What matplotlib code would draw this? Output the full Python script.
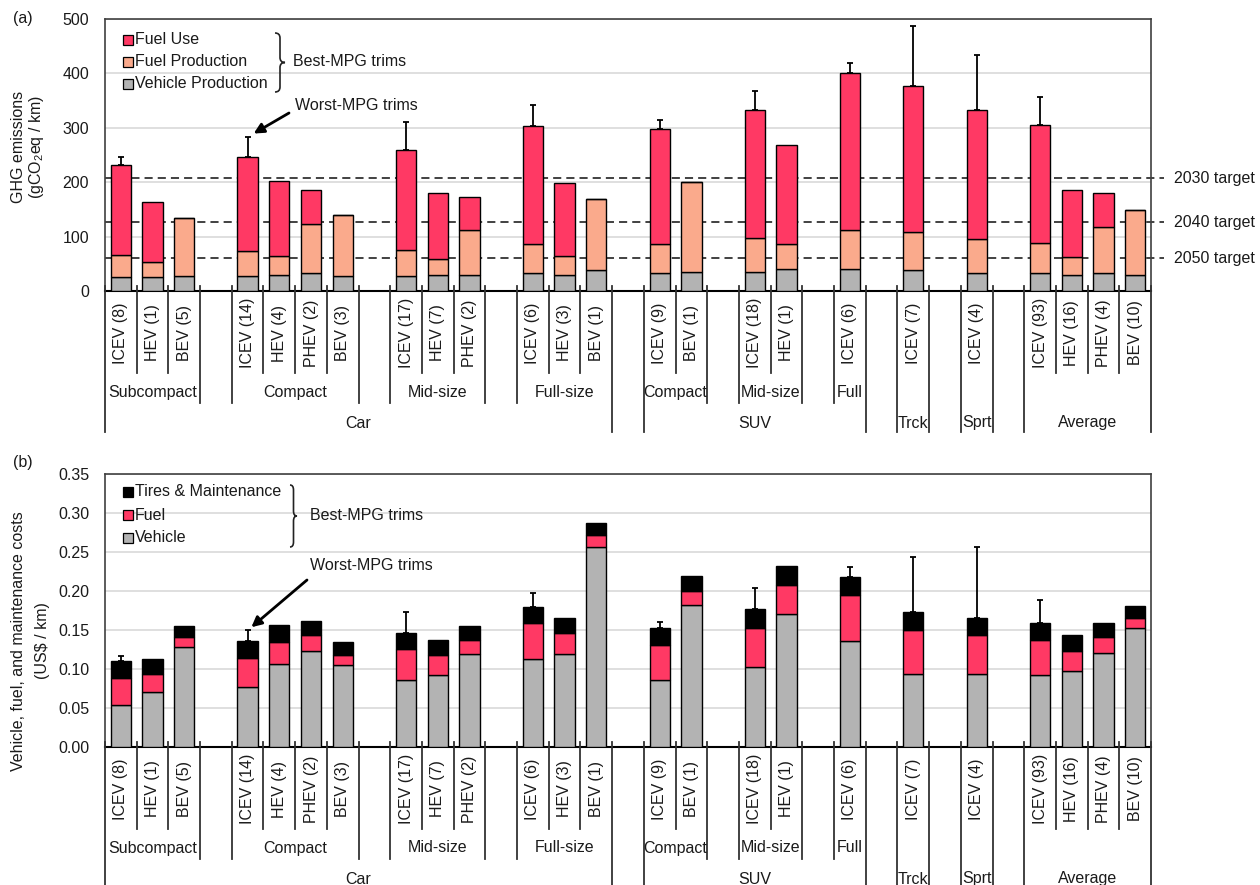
import matplotlib
matplotlib.use("Agg")
import matplotlib.pyplot as plt
import matplotlib.transforms as mtransforms
from matplotlib.patches import Rectangle, PathPatch
from matplotlib.path import Path
from matplotlib.lines import Line2D
from matplotlib.ticker import FormatStrFormatter

plt.rcParams["font.family"] = ["Liberation Sans", "DejaVu Sans"]
plt.rcParams["mathtext.fontset"] = "custom"
plt.rcParams["mathtext.rm"] = "Liberation Sans"
plt.rcParams["mathtext.it"] = "Liberation Sans:italic"
FS = 11.5
TXT = "#1a1a1a"

# ---------------- categories (vehicle class / size / powertrain) ----------------
groups = [
    ("Car", [("Subcompact", ["ICEV (8)", "HEV (1)", "BEV (5)"]),
             ("Compact", ["ICEV (14)", "HEV (4)", "PHEV (2)", "BEV (3)"]),
             ("Mid-size", ["ICEV (17)", "HEV (7)", "PHEV (2)"]),
             ("Full-size", ["ICEV (6)", "HEV (3)", "BEV (1)"])]),
    ("SUV", [("Compact", ["ICEV (9)", "BEV (1)"]),
             ("Mid-size", ["ICEV (18)", "HEV (1)"]),
             ("Full", ["ICEV (6)"])]),
    ("Trck", [("", ["ICEV (7)"])]),
    ("Sprt", [("", ["ICEV (4)"])]),
    ("Average", [("", ["ICEV (93)", "HEV (16)", "PHEV (4)", "BEV (10)"])]),
]

# ---------------- (a) GHG emissions, gCO2eq / km ----------------
ghg_vehicle_prod = [26, 26, 28, 28, 30, 33, 28, 28, 30, 30, 33, 30, 38,
                    33, 35, 35, 41, 41, 38, 33, 33, 30, 33, 30]
ghg_fuel_prod = [41, 28, 107, 45, 35, 91, 112, 48, 29, 83, 54, 35, 131,
                 54, 166, 62, 46, 72, 70, 62, 56, 32, 85, 118]
ghg_fuel_use = [164, 110, 0, 174, 137, 61, 0, 184, 121, 59, 216, 134, 0,
                211, 0, 236, 181, 287, 268, 238, 217, 123, 63, 0]
ghg_worst_mpg = [247, None, None, 283, None, None, None, 310, None, None, 342, None, None,
                 314, None, 367, None, 420, 488, 433, 356, None, None, None]
ghg_targets = [207, 126, 60]
ghg_target_labels = ["2030 target", "2040 target", "2050 target"]

# ---------------- (b) costs, US$ / km ----------------
cost_vehicle = [0.054, 0.070, 0.128, 0.077, 0.107, 0.1225, 0.105, 0.0865, 0.0925, 0.119,
                0.113, 0.119, 0.256, 0.0865, 0.1825, 0.103, 0.170, 0.136, 0.094, 0.094,
                0.092, 0.098, 0.120, 0.152]
cost_fuel = [0.034, 0.023, 0.0125, 0.037, 0.028, 0.0215, 0.013, 0.039, 0.0255, 0.018,
             0.046, 0.027, 0.016, 0.0445, 0.018, 0.050, 0.038, 0.0585, 0.0555, 0.050,
             0.045, 0.0255, 0.0205, 0.013]
cost_tires_maint = [0.022, 0.020, 0.0145, 0.022, 0.022, 0.018, 0.016, 0.0202, 0.0195, 0.018,
                    0.020, 0.020, 0.015, 0.0215, 0.0185, 0.024, 0.024, 0.024, 0.0235, 0.022,
                    0.0215, 0.020, 0.018, 0.016]
cost_worst_mpg = [0.1165, None, None, 0.1495, None, None, None, 0.1737, None, None, 0.198,
                  None, None, 0.160, None, 0.204, None, 0.231, 0.244, 0.257, 0.1885,
                  None, None, None]

C_FUEL_USE = "#FF3964"
C_FUEL_PROD = "#FAAA8C"
C_GRAY = "#B3B3B3"
C_BLACK = "#000000"

# ---------------- slot layout: blank slot after every size group ----------------
positions, cat_labels, lvl2, lvl3 = [], [], [], []
edge_level = {}
slot = 1
for gi, (g3, subs) in enumerate(groups):
    s3 = slot
    for si, (g2, cats) in enumerate(subs):
        s2 = slot
        for c in cats:
            positions.append(slot)
            cat_labels.append(c)
            slot += 1
        lvl2.append((g2, s2, slot - 1))
        for e in (s2 - 0.5, slot - 0.5):
            edge_level[e] = max(edge_level.get(e, 1), 2)
        if si < len(subs) - 1:
            slot += 1
    lvl3.append((g3, s3, slot - 1))
    for e in (s3 - 0.5, slot - 0.5):
        edge_level[e] = 3
    if gi < len(groups) - 1:
        slot += 1
n_slots = slot - 1
for k in range(n_slots + 1):
    edge_level.setdefault(k + 0.5, 1)

W, H = 1260, 885
fig = plt.figure(figsize=(W / 100, H / 100), dpi=100)


def fx(x):
    return x / W


def fy(y):
    return 1 - y / H


def make_axes(top, bottom, left=105, right=1151):
    return fig.add_axes([fx(left), fy(bottom), fx(right - left), (bottom - top) / H])


def style_axes(ax, ymax, step, fmt):
    ax.set_xlim(0.5, n_slots + 0.5)
    ax.set_ylim(0, ymax)
    ax.set_yticks([i * step for i in range(int(round(ymax / step)) + 1)])
    ax.yaxis.set_major_formatter(FormatStrFormatter(fmt))
    ax.set_xticks([])
    ax.tick_params(axis="y", length=0, pad=11.5, labelsize=FS, labelcolor=TXT)
    ax.yaxis.grid(True, color="#d9d9d9", lw=1.2)
    ax.set_axisbelow(True)
    for side in ("left", "right", "top"):
        ax.spines[side].set_color("#404040")
        ax.spines[side].set_linewidth(1.2)
    ax.spines["bottom"].set_color("black")
    ax.spines["bottom"].set_linewidth(1.5)


def category_axis(ax, base):
    trans = mtransforms.blended_transform_factory(ax.transData, fig.transFigure)
    depth = {1: 82, 2: 112, 3: 141}
    for e, lv in edge_level.items():
        fig.add_artist(Line2D([e, e], [fy(base - 5), fy(base + depth[lv])],
                              transform=trans, color="#333333", lw=1.3))
    for p, lab in zip(positions, cat_labels):
        fig.text(p, fy(base + 42), lab, transform=trans, rotation=90,
                 ha="center", va="center", fontsize=FS, color=TXT)
    for name, s, e in lvl2:
        if name:
            fig.text((s + e) / 2, fy(base + 101), name, transform=trans,
                     ha="center", va="center", fontsize=FS, color=TXT)
    for name, s, e in lvl3:
        fig.text((s + e) / 2, fy(base + 132), name, transform=trans,
                 ha="center", va="center", fontsize=FS, color=TXT)


def stacked(ax, layers, colors, worst):
    bottom = [0.0] * len(positions)
    for vals, col in zip(layers, colors):
        ax.bar(positions, vals, bottom=bottom, width=0.64, color=col,
               edgecolor="black", linewidth=1.0, zorder=3)
        bottom = [b + v for b, v in zip(bottom, vals)]
    for p, tot, w in zip(positions, bottom, worst):
        if w is not None:
            ax.errorbar([p], [tot], yerr=[[0], [w - tot]], fmt="none", ecolor="black",
                        elinewidth=1.3, capsize=2.5, capthick=1.3, zorder=2)
    return bottom


def brace(x_left, x_tip, y_top, y_bot, r=5):
    xm = (x_left + x_tip) / 2
    ym = (y_top + y_bot) / 2
    pts = [(x_left, y_top), (xm, y_top), (xm, y_top + r),
           (xm, ym - r), (xm, ym), (x_tip, ym),
           (xm, ym), (xm, ym + r),
           (xm, y_bot - r), (xm, y_bot), (x_left, y_bot)]
    codes = [Path.MOVETO, Path.CURVE3, Path.CURVE3,
             Path.LINETO, Path.CURVE3, Path.CURVE3,
             Path.CURVE3, Path.CURVE3,
             Path.LINETO, Path.CURVE3, Path.CURVE3]
    verts = [(fx(x), fy(y)) for x, y in pts]
    fig.add_artist(PathPatch(Path(verts, codes), fill=False, lw=1.2,
                             edgecolor="#222222", transform=fig.transFigure))


def legend(entries, x_sq, rows):
    for (label, col), y in zip(entries, rows):
        fig.add_artist(Rectangle((fx(x_sq), fy(y + 5)), 10 / W, 10 / H, facecolor=col,
                                 edgecolor="black", lw=0.9, transform=fig.transFigure))
        fig.text(fx(x_sq + 12), fy(y), label, ha="left", va="center",
                 fontsize=FS, color=TXT)


# ================= panel (a) =================
base_a = 291
ax1 = make_axes(19, base_a)
style_axes(ax1, 500, 100, "%d")
stacked(ax1, [ghg_vehicle_prod, ghg_fuel_prod, ghg_fuel_use],
        [C_GRAY, C_FUEL_PROD, C_FUEL_USE], ghg_worst_mpg)
tline = mtransforms.blended_transform_factory(ax1.transAxes, ax1.transData)
tlab = mtransforms.blended_transform_factory(fig.transFigure, ax1.transData)
for v, lab in zip(ghg_targets, ghg_target_labels):
    ax1.plot([0, 1.012], [v, v], transform=tline, color="#333333", lw=1.3,
             ls=(0, (4.5, 2.8)), clip_on=False, zorder=2)
    fig.text(fx(1174), v, lab, transform=tlab, ha="left", va="center",
             fontsize=FS, color=TXT)
category_axis(ax1, base_a)

legend([("Fuel Use", C_FUEL_USE), ("Fuel Production", C_FUEL_PROD),
        ("Vehicle Production", C_GRAY)], 123, [40, 62, 84])
brace(275, 285, 33, 92)
fig.text(fx(293), fy(62), "Best-MPG trims", ha="left", va="center", fontsize=FS, color=TXT)
fig.text(fx(295), fy(106), "Worst-MPG trims", ha="left", va="center", fontsize=FS, color=TXT)
ax1.annotate("", xy=(positions[3], ghg_worst_mpg[3]), xycoords="data",
             xytext=(fx(289), fy(113)), textcoords="figure fraction",
             arrowprops=dict(arrowstyle="-|>", color="black", lw=2,
                             mutation_scale=15, shrinkA=0, shrinkB=5))

fig.text(fx(13), fy(19), "(a)", ha="left", va="center", fontsize=FS, color=TXT)
fig.text(fx(19), fy(147), "GHG emissions", rotation=90, ha="center", va="center",
         fontsize=FS, color=TXT)
fig.text(fx(37), fy(147), "(gCO$_2$eq / km)", rotation=90, ha="center", va="center",
         fontsize=FS, color=TXT)

# ================= panel (b) =================
base_b = 747
ax2 = make_axes(474, base_b)
style_axes(ax2, 0.35, 0.05, "%.2f")
stacked(ax2, [cost_vehicle, cost_fuel, cost_tires_maint],
        [C_GRAY, C_FUEL_USE, C_BLACK], cost_worst_mpg)
category_axis(ax2, base_b)

legend([("Tires & Maintenance", C_BLACK), ("Fuel", C_FUEL_USE),
        ("Vehicle", C_GRAY)], 123, [492, 515, 538])
brace(290, 297, 485, 547)
fig.text(fx(310), fy(516), "Best-MPG trims", ha="left", va="center", fontsize=FS, color=TXT)
fig.text(fx(310), fy(566), "Worst-MPG trims", ha="left", va="center", fontsize=FS, color=TXT)
ax2.annotate("", xy=(positions[3], cost_worst_mpg[3]), xycoords="data",
             xytext=(fx(307), fy(580)), textcoords="figure fraction",
             arrowprops=dict(arrowstyle="-|>", color="black", lw=2,
                             mutation_scale=15, shrinkA=0, shrinkB=3.5))

fig.text(fx(13), fy(462), "(b)", ha="left", va="center", fontsize=FS, color=TXT)
fig.text(fx(19), fy(641), "Vehicle, fuel, and maintenance costs", rotation=90,
         ha="center", va="center", fontsize=FS, color=TXT)
fig.text(fx(42), fy(641), "(US\\$ / km)", rotation=90, ha="center", va="center",
         fontsize=FS, color=TXT)

fig.savefig("out.png", dpi=100, facecolor="white")
